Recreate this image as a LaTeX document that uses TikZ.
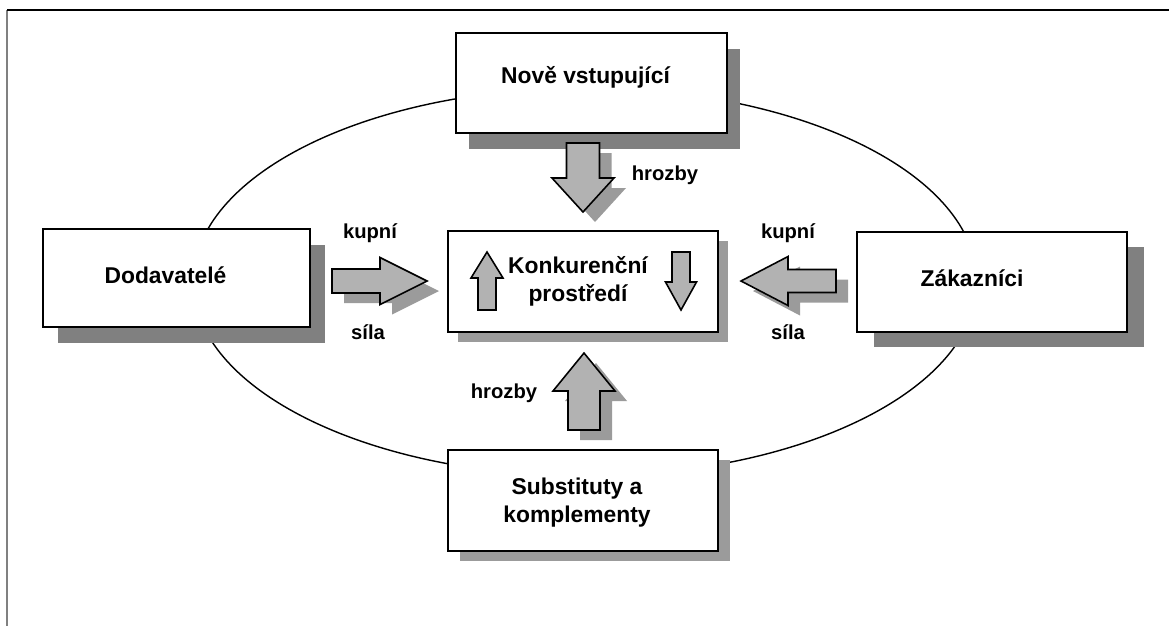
\documentclass[tikz,border=0pt]{standalone}
\usepackage{fontspec}
\setmainfont{Liberation Sans}
\usepackage{tikz}
\usetikzlibrary{calc}
\usepackage{xcolor}
\definecolor{darkshade}{RGB}{128,128,128}
\definecolor{lightshade}{RGB}{155,155,155}
\definecolor{arrowgray}{RGB}{178,178,178}
\tikzstyle{boxed}=[draw, line width=1.6pt, fill=white, inner sep=0pt]
\tikzstyle{boxtext}=[font=\fontsize{13}{16}\selectfont\bfseries, align=center]
\tikzstyle{forcetext}=[font=\fontsize{11.5}{14}\selectfont\bfseries]
\tikzstyle{arrowbody}=[fill=arrowgray, draw=black, line width=0.9pt, line join=miter]
\newcommand{\shadowNbox}[8]{
	\fill[#6] ($#2+#5+(-#3/2,-#4/2)$) rectangle ($#2+#5+(#3/2,#4/2)$);
	\node[boxed, minimum width=#3*0.02cm, minimum height=#4*0.02cm] (#1) at #2 {};
	\node[boxtext] (#1text) at ($#2+#7$) {#8};
}
\newcommand{\blockArrow}[7]{
	\begin{scope}[shift={(12,10)}]
		\fill[fill=#1, shift={#2}, rotate=#3] (-#4,-#5) -- (0,-#5) -- (0,-#7) -- (#6,0) -- (0,#7) -- (0,#5) -- (-#4,#5) -- cycle;
	\end{scope}
	\filldraw[arrowbody, shift={#2}, rotate=#3] (-#4,-#5) -- (0,-#5) -- (0,-#7) -- (#6,0) -- (0,#7) -- (0,#5) -- (-#4,#5) -- cycle;
}

\begin{document}
\begin{tikzpicture}[x=0.02cm, y=-0.02cm]
	\useasboundingbox (0,0) rectangle (1169,626);
	\draw[gray, line width=1.1pt] (7,10) -- (7,626);
	\draw[line width=1.1pt] (7,10) -- (1169,10);
	\draw[line width=0.8pt] (585,282) ellipse [x radius=7.84cm, y radius=3.88cm];
	\shadowNbox{nove}{(591.5,83)}{271}{100}{(13,16)}{darkshade}{(-6,-6)}{Nově vstupující}
	\shadowNbox{dodavatele}{(176.5,278)}{267}{98}{(15,16)}{darkshade}{(-11,-3)}{Dodavatelé}
	\shadowNbox{zakaznici}{(992,282)}{270}{100}{(17,15)}{darkshade}{(-20,-4)}{Zákazníci}
	\shadowNbox{prostredi}{(583,281.5)}{270}{101}{(10,10)}{lightshade}{(-5,0)}{Konkurenční\\prostředí}
	\shadowNbox{substituty}{(583,500.5)}{270}{101}{(12,10)}{lightshade}{(-6,2)}{Substituty a\\komplementy}
	\blockArrow{lightshade}{(583,178)}{-90}{35}{16.5}{34}{31}
	\blockArrow{lightshade}{(584,391)}{90}{39}{16}{38}{31}
	\blockArrow{lightshade}{(380,281)}{0}{48}{12}{47}{23.5}
	\blockArrow{lightshade}{(788,281)}{180}{48}{11.5}{47}{24.5}
	\blockArrow{none}{(487,278)}{90}{32}{9}{26}{16}
	\blockArrow{none}{(681,282)}{-90}{30}{9}{28}{15.5}
	\node[forcetext] (hrozbytop) at (665,175) {hrozby};
	\node[forcetext] (kupnileft) at (370,233) {kupní};
	\node[forcetext] (silaleft) at (368,332) {síla};
	\node[forcetext] (kupniright) at (788,233) {kupní};
	\node[forcetext] (silaright) at (788,332) {síla};
	\node[forcetext] (hrozbybottom) at (504,393) {hrozby};
\end{tikzpicture}
\end{document}
